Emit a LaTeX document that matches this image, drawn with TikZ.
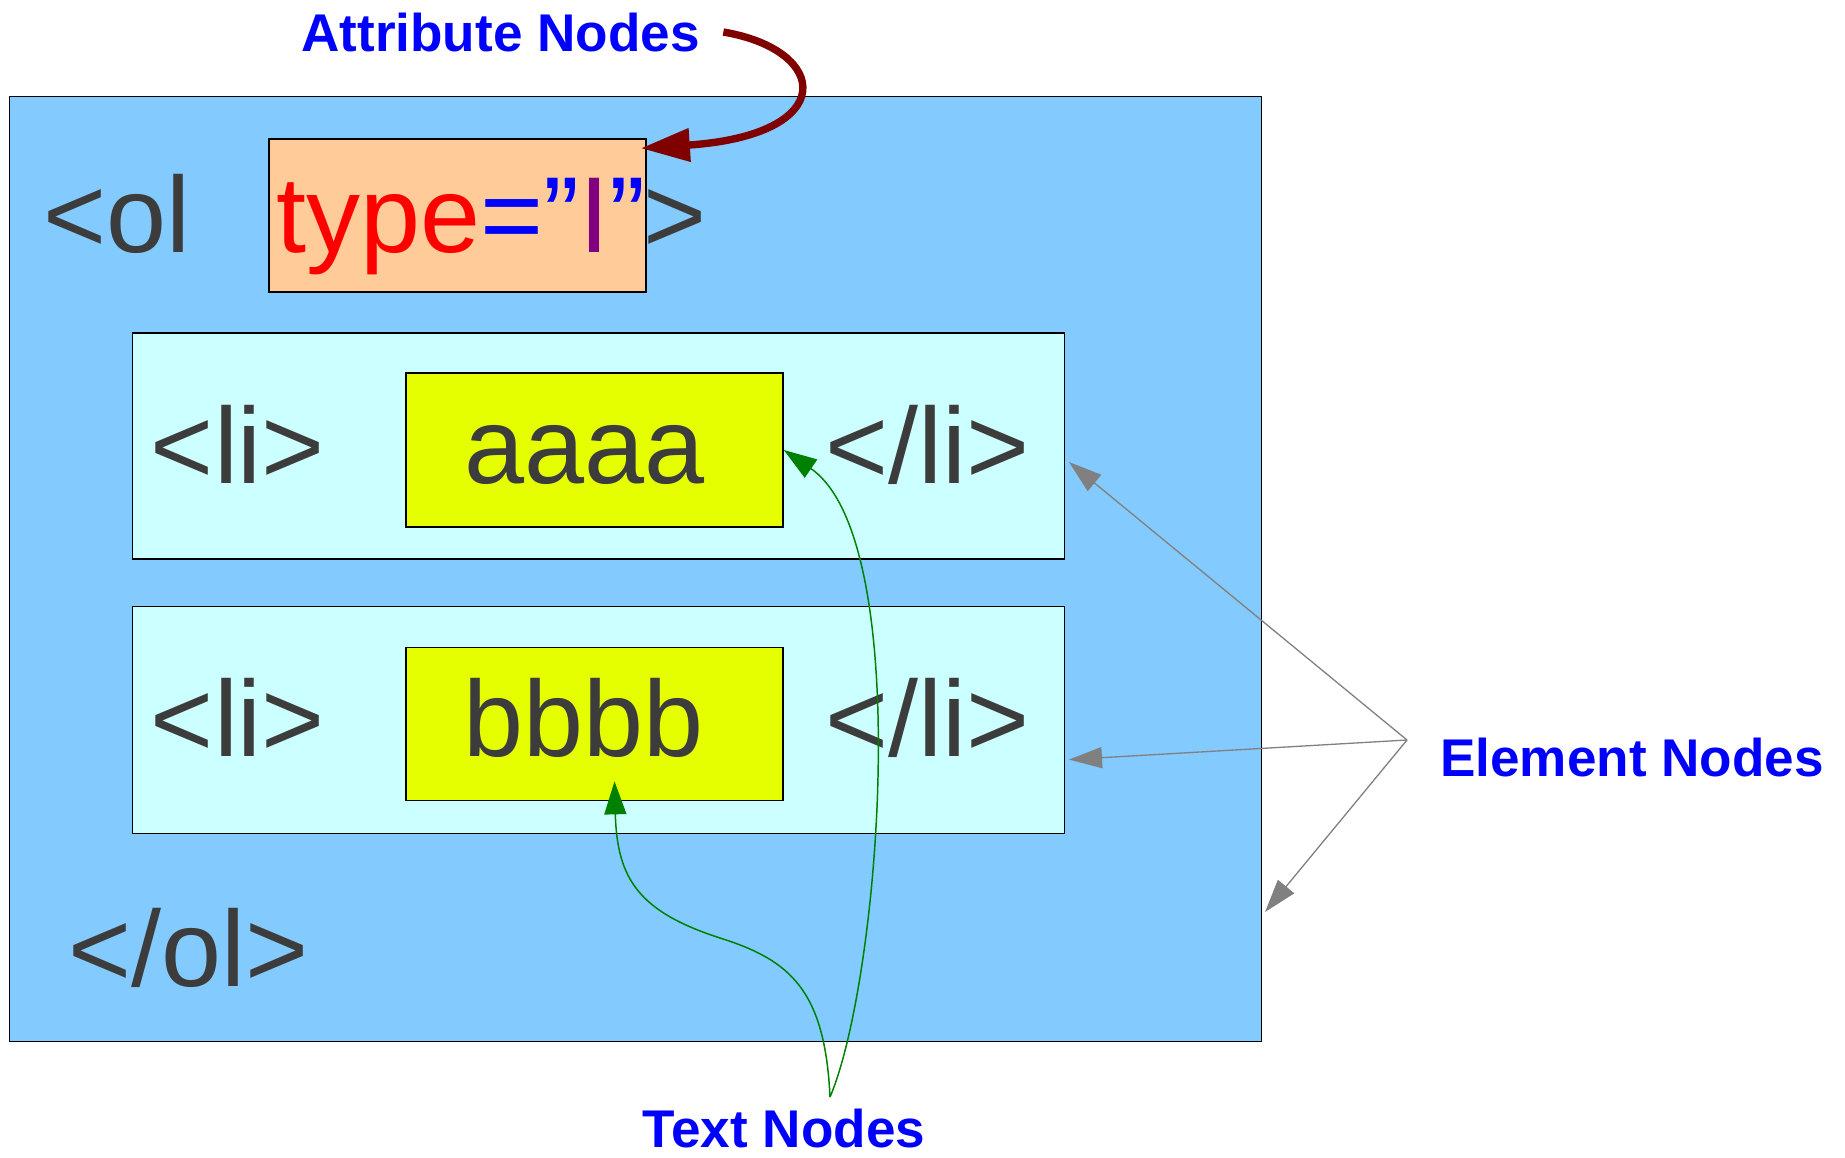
\documentclass[tikz,border=0pt]{standalone}
\usepackage{fontspec}
\setmainfont{Liberation Sans}
\usetikzlibrary{arrows.meta,calc,positioning}
\definecolor{olblue}{HTML}{83CAFF}
\definecolor{licyan}{HTML}{CCFFFF}
\definecolor{textyellow}{HTML}{E6FF00}
\definecolor{attrorange}{HTML}{FFCC99}
\definecolor{tagtext}{HTML}{3C3C3C}
\definecolor{attrpurple}{HTML}{800080}
\definecolor{attrred}{HTML}{800000}
\definecolor{textgreen}{HTML}{008000}
\tikzstyle{rec} = [rectangle,draw,line width=0.4pt,inner sep=0pt]
\tikzstyle{tag} = [inner sep=0pt,anchor=base,text=tagtext,font=\fontsize{30.7pt}{36pt}\selectfont]
\tikzstyle{lbl} = [inner sep=0pt,anchor=base,text=blue,font=\fontsize{15.1pt}{18pt}\selectfont\bfseries]
\tikzstyle{elemarrow} = [draw=gray,line width=0.37pt,-{Triangle[length=0.33cm,width=0.21cm]}]
\tikzstyle{textarrow} = [draw=textgreen,line width=0.42pt,-{Triangle[length=0.33cm,width=0.22cm]}]
\tikzstyle{attrarrow} = [draw=attrred,line width=2.1pt,-{Triangle[length=0.49cm,width=0.32cm]}]

\begin{document}
\begin{tikzpicture}[x=0.01cm,y=-0.01cm]
	\useasboundingbox (0,0) rectangle (1845,1157);

	\node[rec,fill=olblue,minimum width=12.51cm,minimum height=9.44cm] (olbox) at (635.5,569) {};
	\node[rec,fill=licyan,minimum width=9.315cm,minimum height=2.26cm] (lione) at (598.25,446) {};
	\node[rec,fill=licyan,minimum width=9.315cm,minimum height=2.27cm,below=0.46cm of lione] (litwo) {};
	\node[rec,fill=attrorange,minimum width=3.77cm,minimum height=1.53cm] (attrbox) at (457.5,215.5) {};
	\node[rec,fill=textyellow,minimum width=3.77cm,minimum height=1.54cm] (aaaabox) at (594.5,450) {};
	\node[rec,fill=textyellow,minimum width=3.765cm,minimum height=1.53cm,below=1.19cm of aaaabox] (bbbbbox) {};

	\node[tag] (olopen) at (117,252) {<ol};
	\node[tag] (attrtext) at (461,252) {\color{red}type\color{blue}=”\color{attrpurple}I\color{blue}”};
	\node[tag] (olclose) at (675,252) {>};
	\node[tag] (lionestart) at (238,483) {<li>};
	\node[tag] (aaaa) at (585,483) {aaaa};
	\node[tag] (lioneend) at (927.5,483) {</li>};
	\node[tag] (litwostart) at (238,756) {<li>};
	\node[tag] (bbbb) at (584,756) {bbbb};
	\node[tag] (litwoend) at (927.5,756) {</li>};
	\node[tag] (olend) at (188.5,986) {</ol>};

	\node[lbl] (attrlbl) at (500.5,51) {Attribute Nodes};
	\node[lbl] (elemlbl) at (1632,776) {Element Nodes};
	\node[lbl] (textlbl) at (784,1147) {Text Nodes};

	\coordinate (elemhub) at (1407,740);
	\coordinate (texthub) at (830,1097);
	\coordinate (bbbbtip) at ($(bbbbbox.south)+(20,-20)$);

	\draw[attrarrow] ([xshift=0.23cm]attrlbl.east) .. controls (830,50) and (840,135) .. ($(attrbox.north east)+(-6,10)$);

	\draw[elemarrow] (elemhub) -- ($(lione.east)+(4,16)$);
	\draw[elemarrow] (elemhub) -- ($(litwo.east)+(4,39.5)$);
	\draw[elemarrow] (elemhub) -- ($(olbox.south east)+(3,-130)$);

	\draw[textarrow] (texthub) .. controls (880,980) and (915,540) .. (aaaabox.east);
	\draw[textarrow] (texthub) .. controls (825,990) and (790,960) .. (720,938) .. controls (640,912) and (617,880) .. (bbbbtip);

\end{tikzpicture}
\end{document}
